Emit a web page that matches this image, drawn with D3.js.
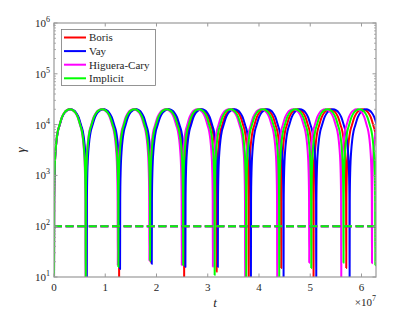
<!DOCTYPE html>
<html>
<head>
<meta charset="utf-8">
<script src="https://cdn.jsdelivr.net/npm/d3@7"></script>
<style>
  body { margin: 0; background: #fff; }
  text { font-family: "Liberation Serif", "Times New Roman", serif; fill: #262626; }
</style>
</head>
<body>
<div id="chart"></div>
<script>
// series names and colours (legend order)
var seriesNames = ["Boris", "Vay", "Higuera-Cary", "Implicit"];
var seriesColors = ["#ff0000", "#0000ff", "#ff00ff", "#00ff00"];

// times of the gamma dips, in units of 1e7
var dipsBoris    = [0, 0.629, 1.270, 1.889, 2.539, 3.174, 3.799, 4.434, 5.064, 5.703, 6.34];
var dipsVay      = [0, 0.639, 1.289, 1.908, 2.564, 3.197, 3.842, 4.479, 5.117, 5.768, 6.41];
var dipsHiguera  = [0, 0.615, 1.244, 1.861, 2.494, 3.100, 3.730, 4.355, 4.980, 5.605, 6.205, 6.83];
var dipsImplicit = [0, 0.619, 1.256, 1.875, 2.520, 3.135, 3.750, 4.395, 5.020, 5.650, 6.270, 6.90];

// lowest gamma reached at each dip (5 = below the axis)
var minBoris    = [5, 5, 5, 19.5, 5, 12.7, 5, 15, 5, 15, 5];
var minVay      = [5, 5, 14.4, 18, 15.7, 15.7, 5, 5, 5, 5, 5];
var minHiguera  = [5, 5, 17, 21, 17, 16, 5, 5, 19, 5, 18.6, 5];
var minImplicit = [5, 5, 15.7, 21, 17, 11, 5, 5, 15, 19, 17, 5];

// shape of one arch between two dips: position (0..1) and gamma
var archPos   = [0.005, 0.01, 0.02, 0.03, 0.05, 0.08, 0.12, 0.17, 0.25, 0.33, 0.4, 0.5,
                 0.6, 0.67, 0.75, 0.83, 0.88, 0.92, 0.95, 0.97, 0.98, 0.99, 0.995];
var archGamma = [310, 630, 1250, 1900, 3100, 5000, 7400, 9600, 14000, 17300, 19000, 20000,
                 19000, 17300, 14000, 9600, 7400, 5000, 3100, 1900, 1250, 630, 310];

// dashed reference level
var refLevel = [100, 100, 100, 100];

var xTicks = [0, 1, 2, 3, 4, 5, 6];
var yTicks = [1, 2, 3, 4, 5, 6];

var allDips = [dipsBoris, dipsVay, dipsHiguera, dipsImplicit];
var allMins = [minBoris, minVay, minHiguera, minImplicit];

var W = 415, H = 312;
var pLeft = 54, pTop = 23, pRight = 376, pBottom = 277;

var svg = d3.select("#chart").append("svg")
    .attr("width", W).attr("height", H);

var x = d3.scaleLinear().domain([0, 6.2832]).range([pLeft, pRight]);
var y = d3.scaleLog().domain([10, 1e6]).range([pBottom, pTop]);

svg.append("clipPath").attr("id", "clip")
  .append("rect").attr("x", pLeft).attr("y", pTop)
  .attr("width", pRight - pLeft).attr("height", pBottom - pTop);

// build the point list of one series from its dips and the arch shape
function buildSeries(dips, mins) {
  var pts = [];
  for (var i = 0; i < dips.length; i++) {
    pts.push([dips[i], mins[i]]);
    if (i < dips.length - 1) {
      var span = dips[i + 1] - dips[i];
      archPos.forEach(function (u, j) {
        pts.push([dips[i] + u * span, archGamma[j]]);
      });
    }
  }
  return pts;
}

var line = d3.line()
    .x(function (d) { return x(d[0]); })
    .y(function (d) { return y(d[1]); })
    .curve(d3.curveMonotoneX);

var plot = svg.append("g").attr("clip-path", "url(#clip)");

allDips.forEach(function (dips, i) {
  plot.append("path")
      .attr("d", line(buildSeries(dips, allMins[i])))
      .attr("fill", "none")
      .attr("stroke", seriesColors[i])
      .attr("stroke-width", 2)
      .attr("stroke-linejoin", "round");
});

// dashed level lines
refLevel.forEach(function (v, i) {
  plot.append("line")
      .attr("x1", x(0)).attr("x2", x(6.2832))
      .attr("y1", y(v)).attr("y2", y(v))
      .attr("stroke", seriesColors[i])
      .attr("stroke-width", 2)
      .attr("stroke-dasharray", "8,3.6");
});

// axes box
var axisColor = "#9a9a9a";
var ax = svg.append("g");
ax.append("rect")
    .attr("x", pLeft).attr("y", pTop)
    .attr("width", pRight - pLeft).attr("height", pBottom - pTop)
    .attr("fill", "none").attr("stroke", axisColor).attr("stroke-width", 1.2);

// x ticks (bottom and top, inward)
xTicks.forEach(function (t) {
  var px = x(t);
  ax.append("line").attr("x1", px).attr("x2", px).attr("y1", pBottom).attr("y2", pBottom - 3.5)
      .attr("stroke", axisColor);
  ax.append("line").attr("x1", px).attr("x2", px).attr("y1", pTop).attr("y2", pTop + 3.5)
      .attr("stroke", axisColor);
  svg.append("text")
      .attr("x", px).attr("y", 291)
      .attr("text-anchor", "middle")
      .style("font-size", "11px")
      .text(t);
});

// y ticks with minor ticks (left and right, inward)
yTicks.forEach(function (e) {
  var v = Math.pow(10, e);
  var py = y(v);
  ax.append("line").attr("x1", pLeft).attr("x2", pLeft + 3.5).attr("y1", py).attr("y2", py)
      .attr("stroke", axisColor);
  ax.append("line").attr("x1", pRight).attr("x2", pRight - 3.5).attr("y1", py).attr("y2", py)
      .attr("stroke", axisColor);
  var lab = svg.append("text")
      .attr("x", 50).attr("y", py + 4)
      .attr("text-anchor", "end")
      .style("font-size", "11px");
  lab.append("tspan").text("10");
  lab.append("tspan").attr("dy", -5).style("font-size", "8px").text(e);
  if (e < 6) {
    for (var m = 2; m <= 9; m++) {
      var pm = y(m * v);
      ax.append("line").attr("x1", pLeft).attr("x2", pLeft + 2).attr("y1", pm).attr("y2", pm)
          .attr("stroke", axisColor).attr("stroke-width", 0.8);
      ax.append("line").attr("x1", pRight).attr("x2", pRight - 2).attr("y1", pm).attr("y2", pm)
          .attr("stroke", axisColor).attr("stroke-width", 0.8);
    }
  }
});

// axis labels
svg.append("text")
    .attr("x", 215).attr("y", 307)
    .attr("text-anchor", "middle")
    .style("font-size", "13px").style("font-style", "italic")
    .text("t");

svg.append("text")
    .attr("transform", "translate(25,150) rotate(-90)")
    .attr("text-anchor", "middle")
    .style("font-size", "13px").style("font-style", "italic")
    .text("γ");

var expo = svg.append("text")
    .attr("x", 376).attr("y", 306)
    .attr("text-anchor", "end")
    .style("font-size", "11px");
expo.append("tspan").text("×10");
expo.append("tspan").attr("dy", -5).style("font-size", "8px").text("7");

// legend
var lg = svg.append("g");
lg.append("rect")
    .attr("x", 61.5).attr("y", 29.5)
    .attr("width", 94).attr("height", 56)
    .attr("fill", "#fff").attr("stroke", "#7a7a7a").attr("stroke-width", 0.8);
seriesNames.forEach(function (name, i) {
  var ly = 37.5 + i * 13.6;
  lg.append("line")
      .attr("x1", 64).attr("x2", 86).attr("y1", ly).attr("y2", ly)
      .attr("stroke", seriesColors[i]).attr("stroke-width", 2);
  lg.append("text")
      .attr("x", 89).attr("y", ly + 3.8)
      .style("font-size", "11px")
      .text(name);
});
</script>
</body>
</html>
